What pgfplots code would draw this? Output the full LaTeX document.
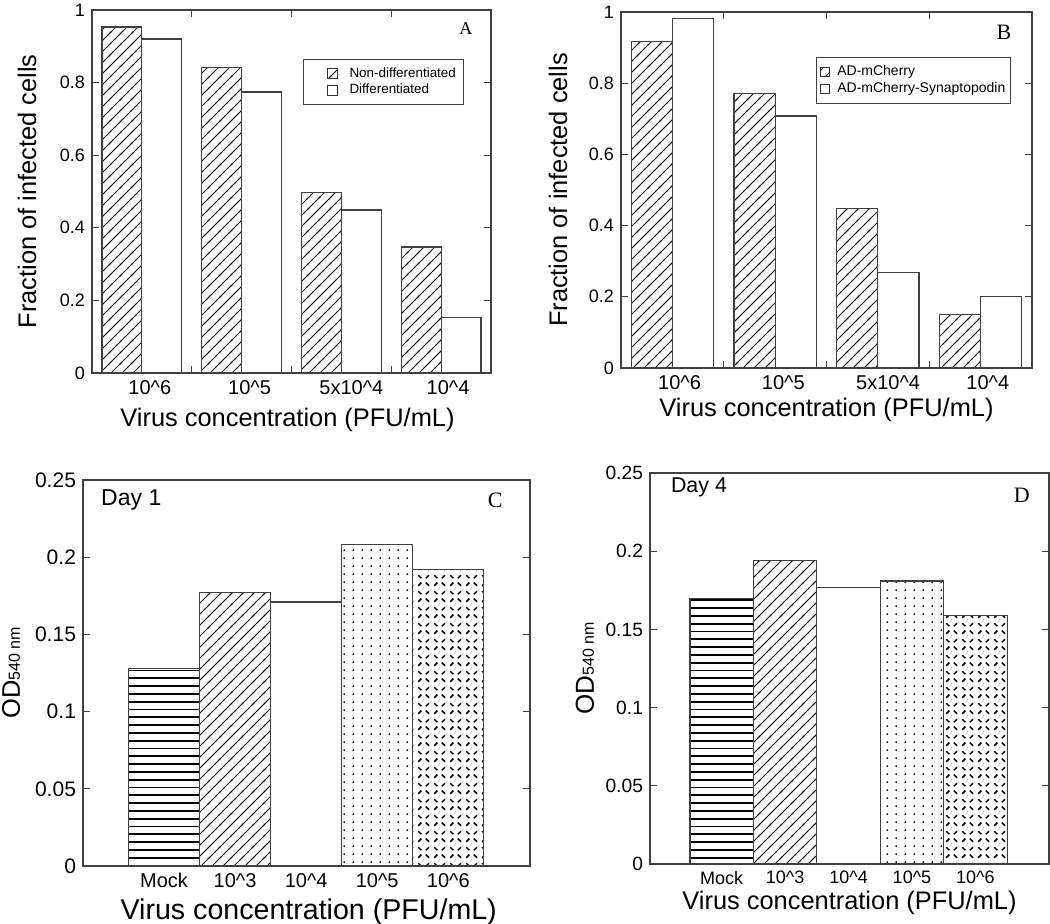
\documentclass[border=0pt]{standalone}
\usepackage{pgfplots}
\pgfplotsset{compat=1.18}
\usepackage{fontspec}
\setmainfont{Liberation Sans}
\newfontfamily\panelfont{Liberation Serif}
\usetikzlibrary{patterns}

\pgfdeclarepatternformonly{diag}{\pgfqpoint{-1pt}{-1pt}}{\pgfqpoint{6.5pt}{6.5pt}}{\pgfqpoint{5.5pt}{5.5pt}}{%
  \pgfsetlinewidth{0.45pt}\pgfpathmoveto{\pgfqpoint{-0.5pt}{-0.5pt}}\pgfpathlineto{\pgfqpoint{6pt}{6pt}}\pgfusepath{stroke}}
\pgfdeclarepatternformonly{hl}{\pgfqpoint{-0.5pt}{0pt}}{\pgfqpoint{4.5pt}{3.9pt}}{\pgfqpoint{4pt}{3.9pt}}{%
  \pgfsetlinewidth{0.9pt}\pgfpathmoveto{\pgfqpoint{-0.5pt}{1.95pt}}\pgfpathlineto{\pgfqpoint{4.5pt}{1.95pt}}\pgfusepath{stroke}}
\pgfdeclarepatternformonly{dotsp}{\pgfqpoint{0pt}{0pt}}{\pgfqpoint{4.6pt}{4.2pt}}{\pgfqpoint{4.6pt}{4.2pt}}{%
  \pgfpathcircle{\pgfqpoint{2.3pt}{2.1pt}}{0.55pt}\pgfusepath{fill}}
\pgfdeclarepatternformonly{dashx}{\pgfqpoint{0pt}{0pt}}{\pgfqpoint{8pt}{8pt}}{\pgfqpoint{8pt}{8pt}}{%
  \pgfsetlinewidth{0.8pt}%
  \pgfpathmoveto{\pgfqpoint{1.15pt}{1.15pt}}\pgfpathlineto{\pgfqpoint{2.85pt}{2.85pt}}%
  \pgfpathmoveto{\pgfqpoint{5.15pt}{2.85pt}}\pgfpathlineto{\pgfqpoint{6.85pt}{1.15pt}}%
  \pgfpathmoveto{\pgfqpoint{1.15pt}{6.85pt}}\pgfpathlineto{\pgfqpoint{2.85pt}{5.15pt}}%
  \pgfpathmoveto{\pgfqpoint{5.15pt}{5.15pt}}\pgfpathlineto{\pgfqpoint{6.85pt}{6.85pt}}%
  \pgfusepath{stroke}}

\pgfplotsset{
  panel/.style={
    scale only axis,
    axis line style={black!75, line width=0.6pt},
    tick style={black!75, line width=0.5pt},
    tick align=inside, major tick length=3.5pt,
    ytick pos=both,
    /pgf/number format/assume math mode=true,
    scaled y ticks=false,
    ylabel style={font=\fontsize{12.7}{14}\selectfont},
    xlabel style={font=\fontsize{12.7}{14}\selectfont},
    yticklabel style={/pgf/number format/fixed, font=\fontsize{9}{10}\selectfont},
    xticklabel style={font=\fontsize{10}{11}\selectfont},
    ymin=0,
  },
  barstyle/.style={ybar, bar shift=0pt, draw=black!75, line width=0.6pt},
  legA/.style={legend image code/.code={\path[draw=none,fill=none] (0pt,-2.6pt) rectangle (19pt,2.6pt);
    \draw[##1,draw=black!80,line width=0.4pt] (9pt,-2.5pt) rectangle (14pt,2.5pt);}},
  legB/.style={legend image code/.code={\path[draw=none,fill=none] (0pt,-2.6pt) rectangle (8pt,2.6pt);
    \draw[##1,draw=black!80,line width=0.4pt] (0.5pt,-2.3pt) rectangle (5pt,2.3pt);}},
}

\begin{document}
\begin{tikzpicture}
\path[use as bounding box] (0,0) rectangle (525pt,-462pt);

% ---------------- Panel A ----------------
\begin{axis}[panel,
  at={(46pt,-186.5pt)}, anchor=south west,
  width=199.5pt, height=181.5pt,
  xmin=0, xmax=4, ymax=1,
  ytick={0,0.2,0.4,0.6,0.8,1},
  xtick={1,2,3}, xticklabels={,,}, xtick pos=both,
  extra x ticks={0.58,1.58,2.6,3.57},
  extra x tick labels={10\textasciicircum 6,10\textasciicircum 5,5x10\textasciicircum 4,10\textasciicircum 4},
  extra x tick style={tick style={draw=none}},
  ylabel={Fraction of infected cells},
  ylabel style={at={(axis description cs:-0.163,0.5)}, anchor=center},
  xlabel={Virus concentration (PFU/mL)},
  xlabel style={at={(axis description cs:0.49,-0.13)}, anchor=center},
  legend style={at={(0.529,0.865)}, anchor=north west, draw=black!75, line width=0.5pt,
    font=\fontsize{6.7}{7}\selectfont, inner xsep=3pt, inner ysep=3pt,
    nodes={inner sep=1pt}, cells={anchor=west}},
]
\addplot[barstyle, bar width=0.4, pattern=diag, legA] coordinates {(0.3,0.953) (1.3,0.842) (2.3,0.497) (3.3,0.347)};
\addlegendentry{Non-differentiated}
\addplot[barstyle, bar width=0.4, fill=white, legA] coordinates {(0.7,0.920) (1.7,0.774) (2.7,0.449) (3.7,0.152)};
\addlegendentry{Differentiated}
\node[font=\panelfont\fontsize{9}{10}\selectfont] at (axis description cs:0.937,0.948) {A};
\end{axis}

% ---------------- Panel B ----------------
\begin{axis}[panel,
  at={(310.5pt,-184pt)}, anchor=south west,
  width=205.5pt, height=178pt,
  xmin=0, xmax=4, ymax=1,
  ytick={0,0.2,0.4,0.6,0.8,1},
  xtick={1,2,3}, xticklabels={,,}, xtick pos=both,
  extra x ticks={0.57,1.58,2.6,3.57},
  extra x tick labels={10\textasciicircum 6,10\textasciicircum 5,5x10\textasciicircum 4,10\textasciicircum 4},
  extra x tick style={tick style={draw=none}},
  ylabel={Fraction of infected cells},
  ylabel style={at={(axis description cs:-0.153,0.5)}, anchor=center},
  xlabel={Virus concentration (PFU/mL)},
  xlabel style={at={(axis description cs:0.5,-0.118)}, anchor=center},
  legend style={at={(0.474,0.874)}, anchor=north west, draw=black!75, line width=0.5pt,
    font=\fontsize{7}{7.5}\selectfont, inner xsep=1.5pt, inner ysep=3pt,
    nodes={inner sep=1pt}, cells={anchor=west}},
]
\addplot[barstyle, bar width=0.4, pattern=diag, legB] coordinates {(0.3,0.916) (1.3,0.772) (2.3,0.447) (3.3,0.151)};
\addlegendentry{AD-mCherry}
\addplot[barstyle, bar width=0.4, fill=white, legB] coordinates {(0.7,0.981) (1.7,0.708) (2.7,0.269) (3.7,0.200)};
\addlegendentry{AD-mCherry-Synaptopodin}
\node[font=\panelfont\fontsize{11}{12}\selectfont] at (axis description cs:0.932,0.944) {B};
\end{axis}

% ---------------- Panel C ----------------
\begin{axis}[panel,
  at={(41.5pt,-433pt)}, anchor=south west,
  width=223.5pt, height=193pt,
  xmin=-0.14, xmax=6.15, ymax=0.25,
  ytick={0,0.05,0.1,0.15,0.2,0.25},
  xtick={1,2,3,4,5},
  xticklabels={Mock,10\textasciicircum 3,10\textasciicircum 4,10\textasciicircum 5,10\textasciicircum 6},
  major x tick style={draw=none},
  ylabel={OD{\fontsize{8}{8}\selectfont 540 nm}},
  ylabel style={at={(axis description cs:-0.161,0.5)}, anchor=center},
  xlabel={Virus concentration (PFU/mL)},
  xlabel style={at={(axis description cs:0.505,-0.119)}, anchor=center, font=\fontsize{14.3}{16}\selectfont},
  yticklabel style={font=\fontsize{10.5}{11}\selectfont},
]
\addplot[barstyle, bar width=1, pattern=hl] coordinates {(1,0.128)};
\addplot[barstyle, bar width=1, pattern=diag] coordinates {(2,0.177)};
\addplot[barstyle, bar width=1, fill=white] coordinates {(3,0.171)};
\addplot[barstyle, bar width=1, pattern=dotsp] coordinates {(4,0.208)};
\addplot[barstyle, bar width=1, pattern=dashx] coordinates {(5,0.192)};
\node[anchor=west, font=\fontsize{11.5}{12}\selectfont] at (axis description cs:0.025,0.948) {Day 1};
\node[font=\panelfont\fontsize{11}{12}\selectfont] at (axis description cs:0.922,0.948) {C};
\end{axis}

% ---------------- Panel D ----------------
\begin{axis}[panel,
  at={(325pt,-432pt)}, anchor=south west,
  width=199.5pt, height=195.5pt,
  xmin=-0.13, xmax=6.16, ymax=0.25,
  ytick={0,0.05,0.1,0.15,0.2,0.25},
  xtick={1,2,3,4,5},
  xticklabels={Mock,10\textasciicircum 3,10\textasciicircum 4,10\textasciicircum 5,10\textasciicircum 6},
  major x tick style={draw=none},
  ylabel={OD{\fontsize{8}{8}\selectfont 540 nm}},
  ylabel style={at={(axis description cs:-0.163,0.5)}, anchor=center, font=\fontsize{13}{14}\selectfont},
  xlabel={Virus concentration (PFU/mL)},
  xlabel style={at={(axis description cs:0.5,-0.1)}, anchor=center},
  yticklabel style={font=\fontsize{9.6}{10}\selectfont},
  xticklabel style={font=\fontsize{9}{10}\selectfont},
]
\addplot[barstyle, bar width=1, pattern=hl] coordinates {(1,0.170)};
\addplot[barstyle, bar width=1, pattern=diag] coordinates {(2,0.194)};
\addplot[barstyle, bar width=1, fill=white] coordinates {(3,0.177)};
\addplot[barstyle, bar width=1, pattern=dotsp] coordinates {(4,0.181)};
\addplot[barstyle, bar width=1, pattern=dashx] coordinates {(5,0.159)};
\node[anchor=west, font=\fontsize{10.7}{12}\selectfont] at (axis description cs:0.035,0.962) {Day 4};
\node[font=\panelfont\fontsize{11}{12}\selectfont] at (axis description cs:0.932,0.944) {D};
\end{axis}
\end{tikzpicture}
\end{document}
